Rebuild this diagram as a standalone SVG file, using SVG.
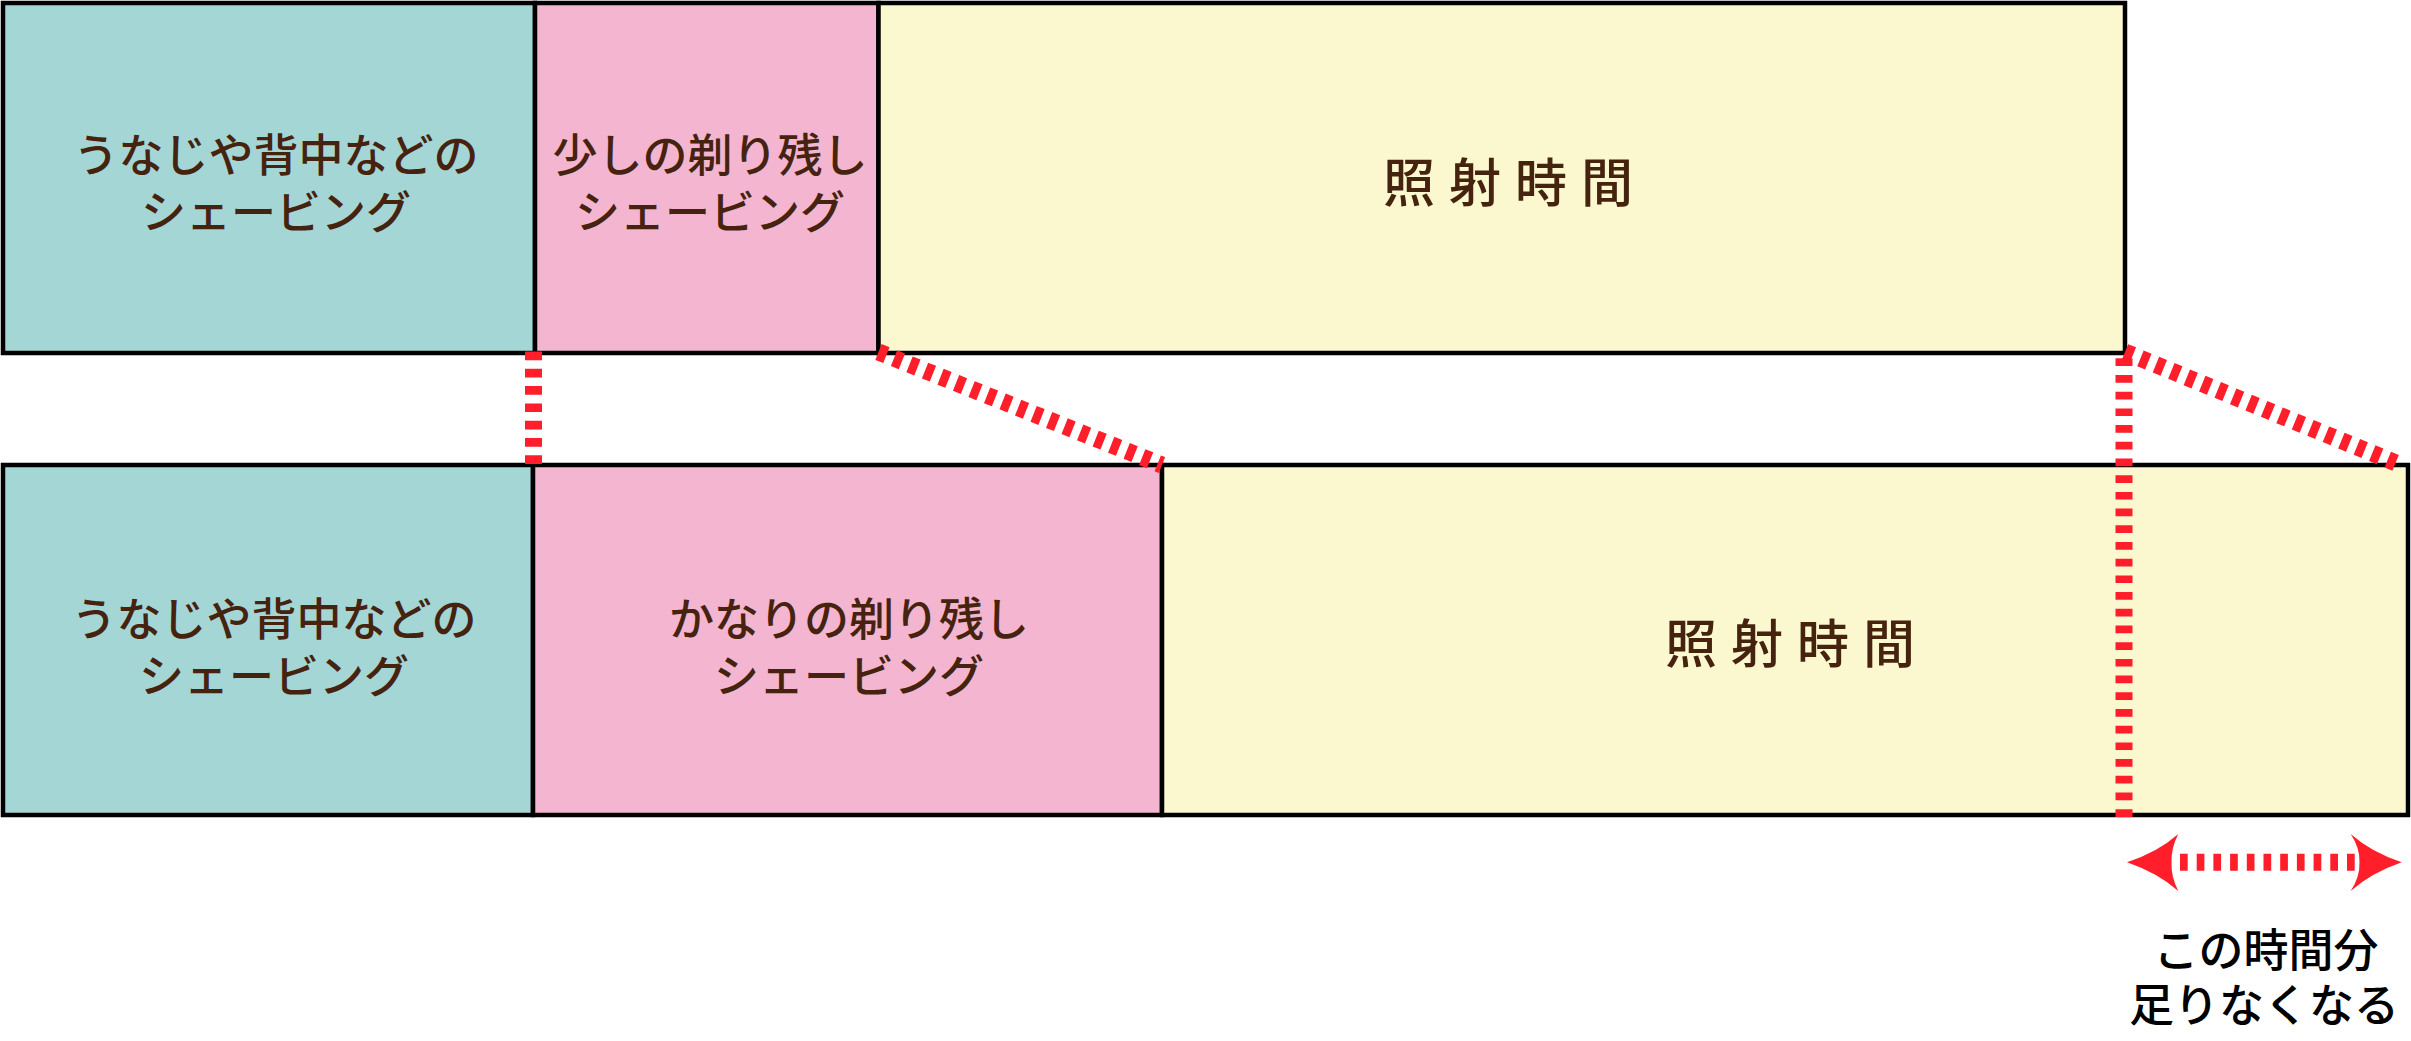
<svg xmlns="http://www.w3.org/2000/svg" width="2411" height="1041" viewBox="0 0 2411 1041">
<style>
.box{stroke:#000;stroke-width:4.5}
.teal{fill:#a4d6d6}
.pink{fill:#f3b5d0}
.yellow{fill:#fbf8d0}
.lbl{font-family:"Noto Sans CJK JP","Noto Sans",sans-serif;font-size:45px;fill:#45230f;text-anchor:middle;font-weight:500}
.big{font-family:"Noto Sans CJK JP","Noto Sans",sans-serif;font-size:52px;fill:#45230f;letter-spacing:14px;font-weight:500}
.note{font-family:"Noto Sans CJK JP","Noto Sans",sans-serif;font-size:45px;fill:#000;text-anchor:middle;font-weight:500}
.dot{stroke:#ff1e2a;stroke-width:17;fill:none}
</style>
<rect width="2411" height="1041" fill="#fff"/>
<g id="top-nape">
<rect class="box teal" x="3" y="3" width="532" height="350"/>
<text class="lbl"><tspan x="276" y="172">うなじや背中などの</tspan><tspan x="276" y="229">シェービング</tspan></text>
</g>
<g id="top-leftover">
<rect class="box pink" x="535" y="3" width="343.5" height="350"/>
<text class="lbl"><tspan x="710" y="172">少しの剃り残し</tspan><tspan x="710" y="229">シェービング</tspan></text>
</g>
<g id="top-irradiation">
<rect class="box yellow" x="878.5" y="3" width="1246.5" height="350"/>
<text class="big" x="1383" y="202">照射時間</text>
</g>
<g id="bottom-nape">
<rect class="box teal" x="3" y="465" width="530" height="350"/>
<text class="lbl"><tspan x="274" y="636">うなじや背中などの</tspan><tspan x="274" y="693">シェービング</tspan></text>
</g>
<g id="bottom-leftover">
<rect class="box pink" x="533" y="465" width="629" height="350"/>
<text class="lbl"><tspan x="849" y="636">かなりの剃り残し</tspan><tspan x="849" y="693">シェービング</tspan></text>
</g>
<g id="bottom-irradiation">
<rect class="box yellow" x="1162" y="465" width="1246" height="350"/>
<text class="big" x="1665" y="663">照射時間</text>
</g>
<g id="connectors">
<line class="dot" x1="533.5" y1="351.5" x2="533.5" y2="465" stroke-dasharray="8.7 8.6"/>
<line class="dot" x1="878.5" y1="352" x2="1162" y2="465" stroke-dasharray="8.5 8.2"/>
<line class="dot" x1="2125" y1="352" x2="2401" y2="465" stroke-dasharray="8.5 8.2"/>
<line class="dot" x1="2124" y1="358.3" x2="2124" y2="817" stroke-dasharray="7.7 9"/>
<line class="dot" x1="2180" y1="862.3" x2="2355" y2="862.3" stroke-width="16.7" stroke-dasharray="7.7 9"/>
<path fill="#ff1e2a" d="M2127,862.3 Q2158,852 2178.3,834 Q2171,848 2171.5,862.3 Q2171,877 2178.3,891 Q2158,873 2127,862.3 Z"/>
<path fill="#ff1e2a" d="M2401.7,862.3 Q2371,852 2350.7,834 Q2360,848 2359.5,862.3 Q2360,877 2350.7,891 Q2371,873 2401.7,862.3 Z"/>
</g>
<g id="shortfall-label">
<text class="note"><tspan x="2266" y="967">この時間分</tspan><tspan x="2264" y="1022">足りなくなる</tspan></text>
</g>
</svg>
